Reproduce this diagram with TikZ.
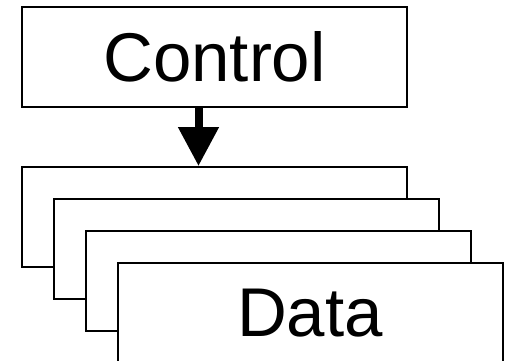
\documentclass[tikz,border=0pt]{standalone}
\usepackage{fontspec}
\setmainfont{Liberation Sans}
\usetikzlibrary{arrows.meta}

\begin{document}
\begin{tikzpicture}[
  x=1pt, y=-1pt,
  block/.style={rectangle, draw, fill=white, line width=2pt, minimum width=385pt, minimum height=100pt, inner sep=0pt, font=\fontsize{69}{72}\selectfont},
  flow/.style={line width=8pt, -{Triangle[length=39pt,width=39pt]}}
]
\useasboundingbox (0,0) rectangle (507,360);

\node[block] (ctrl) at (214.5, 57) {Control};
\node[block] (data1) at (214.5, 217) {};
\node[block] (data2) at (246, 249) {};
\node[block] (data3) at (278, 281) {};
\node[block] (data4) at (310, 313) {Data};

\draw[flow] ([xshift=-16pt]ctrl.south) -- ([xshift=-16pt]data1.north);

\end{tikzpicture}
\end{document}
